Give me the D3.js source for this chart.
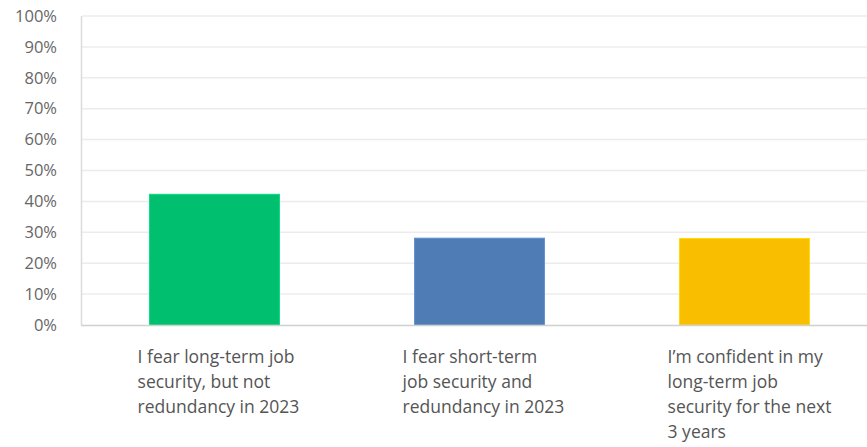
<!DOCTYPE html>
<html>
<head>
<meta charset="utf-8">
<script src="https://cdn.jsdelivr.net/npm/d3@7"></script>
<style>
  html, body { margin: 0; padding: 0; background: #fff; overflow: hidden; }
  svg { display: block; font-family: "Open Sans", Roboto, sans-serif; }
</style>
</head>
<body>
<svg id="chart" width="867" height="447"></svg>
<script>
const categories = [
  "I fear long-term job|security, but not|redundancy in 2023",
  "I fear short-term|job security and|redundancy in 2023",
  "I\u2019m confident in my|long-term job|security for the next|3 years"
];
const values = [42.3, 28.1, 28.0];
const colors = ["#00bf6f", "#507cb6", "#f9be00"];
const yTicks = [0, 10, 20, 30, 40, 50, 60, 70, 80, 90, 100];

const svg = d3.select("#chart");
const margin = { left: 82, top: 16, bottom: 122, right: -10 };
const W = 867, H = 447;

const x = d3.scaleBand()
  .domain(categories)
  .range([margin.left, W - margin.right])
  .paddingInner(0.51)
  .paddingOuter(0.255);

const y = d3.scaleLinear().domain([0, 100]).range([H - margin.bottom, margin.top]);

// gridlines
svg.append("g")
  .selectAll("line")
  .data(yTicks.filter(d => d > 0))
  .join("line")
  .attr("x1", margin.left).attr("x2", W)
  .attr("y1", d => y(d)).attr("y2", d => y(d))
  .attr("stroke", "#ececec").attr("stroke-width", 1.5);

// y axis labels
const yAxis = d3.axisLeft(y).tickValues(yTicks).tickFormat(d => d + "%").tickSize(0).tickPadding(0);
const yg = svg.append("g").attr("transform", `translate(57,0)`).call(yAxis);
yg.select(".domain").remove();
yg.selectAll("text")
  .attr("fill", "#666")
  .style("font-size", "16.5px")
  .style("font-family", "'Open Sans', sans-serif");

// left axis line
svg.append("line")
  .attr("x1", margin.left - 0.5).attr("x2", margin.left - 0.5)
  .attr("y1", y(100)).attr("y2", y(0))
  .attr("stroke", "#dcdcdc").attr("stroke-width", 1.5);

// bars
svg.append("g")
  .selectAll("rect")
  .data(values)
  .join("rect")
  .attr("x", (d, i) => x(categories[i]))
  .attr("width", x.bandwidth())
  .attr("y", d => y(d))
  .attr("height", d => y(0) - y(d))
  .attr("fill", (d, i) => colors[i])
  .attr("stroke", (d, i) => d3.color(colors[i]).brighter(0.4))
  .attr("stroke-width", 1);

// bottom axis line
svg.append("line")
  .attr("x1", margin.left - 1).attr("x2", W)
  .attr("y1", y(0) + 0.5).attr("y2", y(0) + 0.5)
  .attr("stroke", "#d0d0d0").attr("stroke-width", 1.5);

// x labels
const lab = svg.append("g")
  .selectAll("text")
  .data(categories)
  .join("text")
  .attr("x", d => x(d) - 12)
  .attr("y", 363)
  .attr("fill", "#555")
  .style("font-size", "17.5px")
  .style("font-family", "'Open Sans', sans-serif");
lab.each(function(d) {
  const t = d3.select(this);
  const xx = +t.attr("x");
  d.split("|").forEach((line, i) => {
    t.append("tspan").attr("x", xx).attr("dy", i === 0 ? 0 : 25).text(line);
  });
});
</script>
</body>
</html>
